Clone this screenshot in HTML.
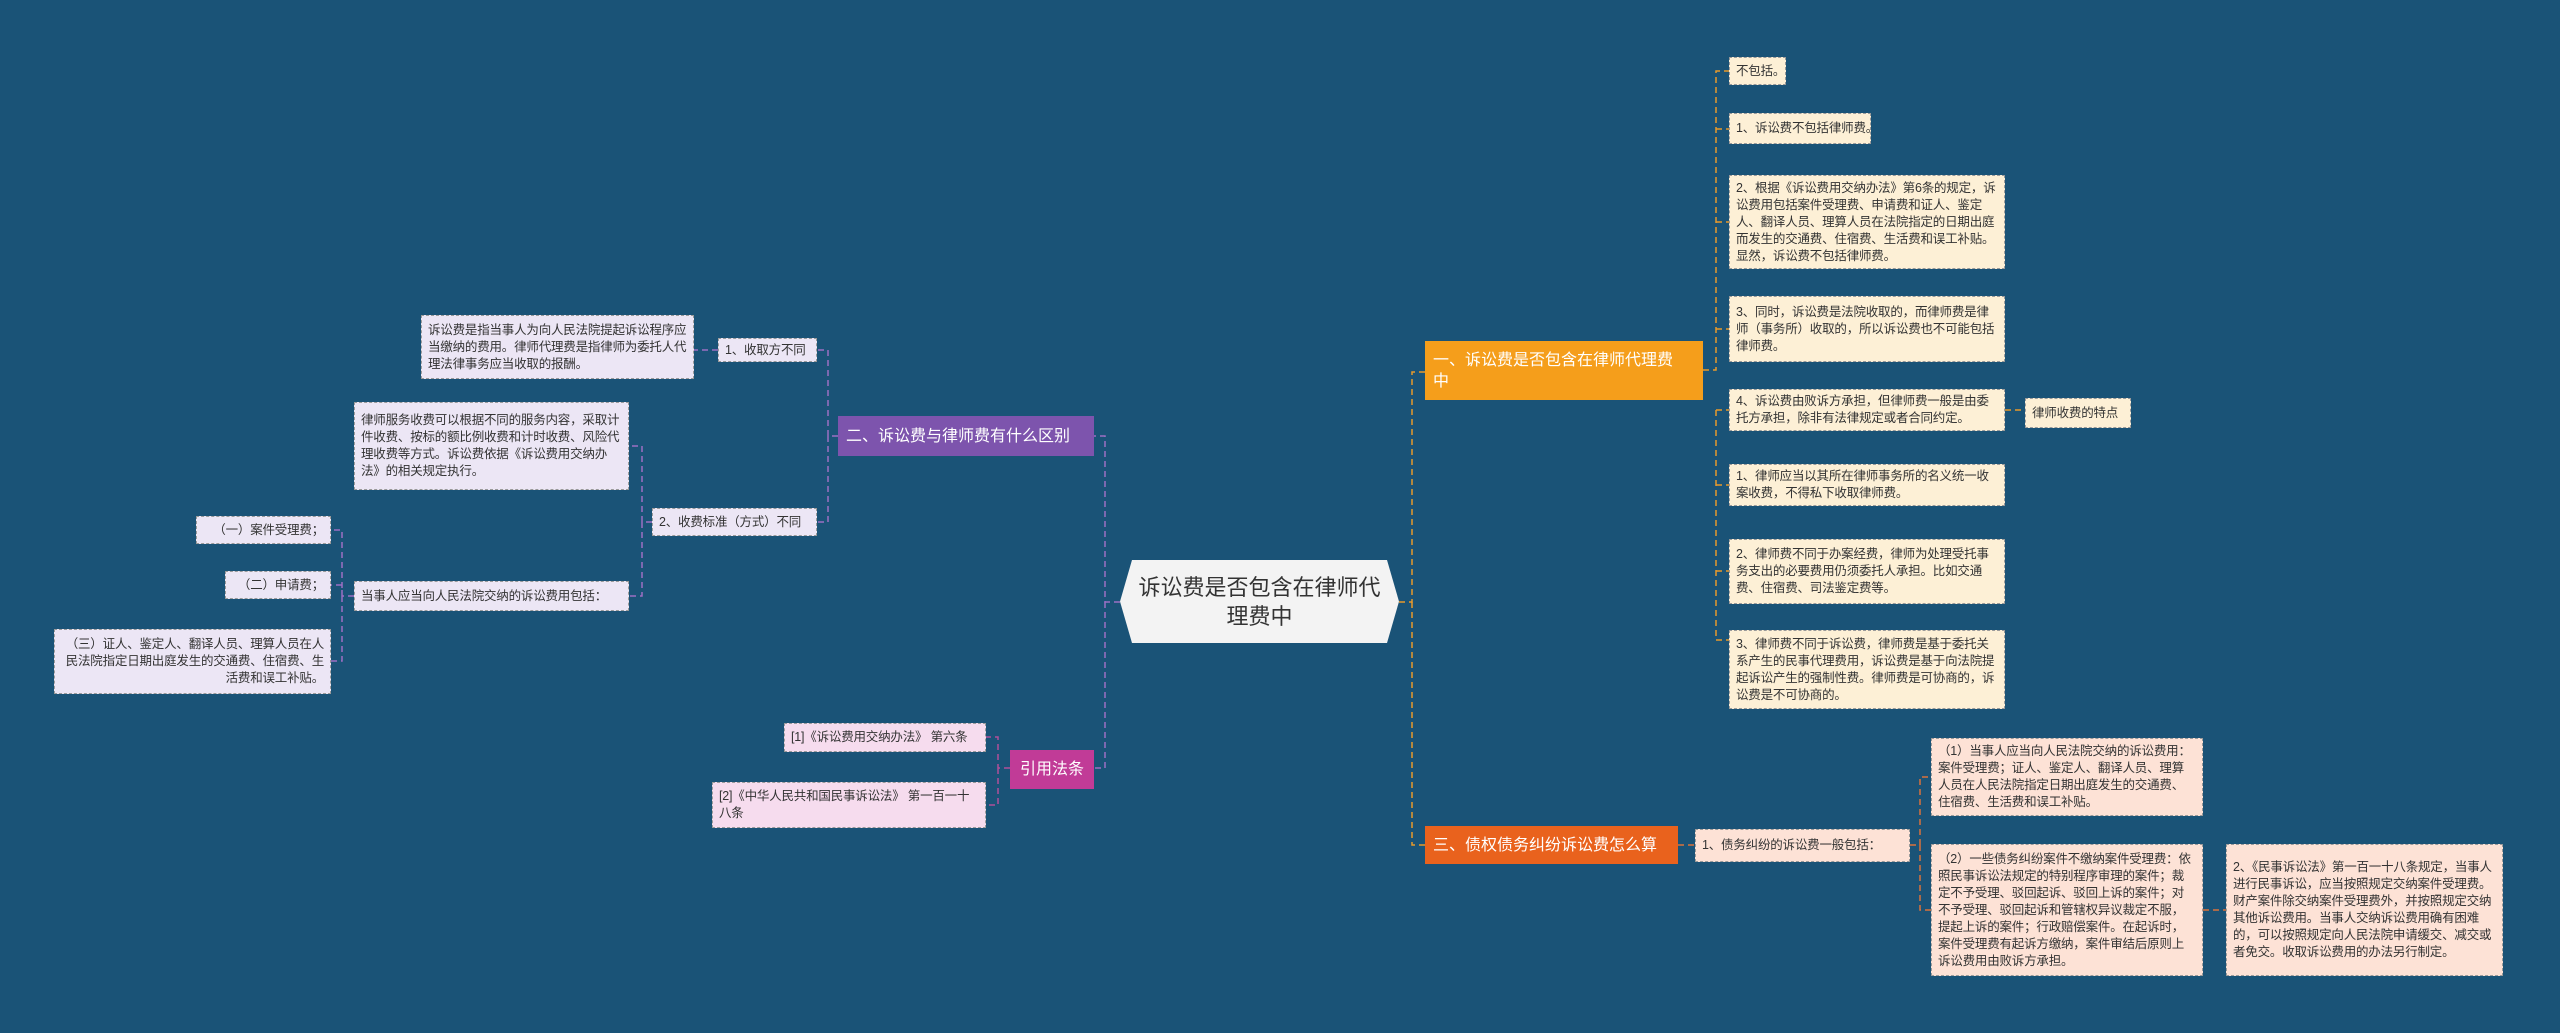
<!DOCTYPE html>
<html><head><meta charset="utf-8"><style>
body{margin:0;width:2560px;height:1033px;background:#1a5377;position:relative;overflow:hidden;font-family:"Liberation Sans","Noto Sans CJK SC",sans-serif}
.n{position:absolute;box-sizing:border-box;font-size:12.5px;line-height:17px;color:#333;padding:4px 6px;border:1px dashed #9a9a9a;display:flex;align-items:center;letter-spacing:-0.2px}
.s{white-space:nowrap}
.c{background:#fdf0d6}
.p{background:#fde2d6}
.l{background:#ece6f5}
.k{background:#f6dcee}
.b{position:absolute;box-sizing:border-box;color:#fff;font-size:16px;line-height:21px;padding:4px 8px;display:flex;align-items:center}
svg{position:absolute;left:0;top:0}
</style></head><body>
<svg width="2560" height="1033" fill="none" stroke-width="1.5" stroke-dasharray="6,4">
<g stroke="#e89a2c">
<path d="M1399 602 H1412 V372 H1425"/>
<path d="M1412 602 V845 H1425"/>
<path d="M1703 370 H1716 V71 H1729 M1716 129 H1729 M1716 222 H1729 M1716 329 H1729 M1716 410 H1729 M1716 485 H1729 M1716 571 H1729 M1716 640 H1729 M1716 410 V640"/>
<path d="M2005 410 H2025"/>
</g>
<g stroke="#d9733c">
<path d="M1678 845 H1695"/>
<path d="M1910 845 H1920 V777 H1931 M1920 845 V910 H1931"/>
<path d="M2203 910 H2226"/>
</g>
<g stroke="#9b6fc4">
<path d="M1120 602 H1105 V436 H1094"/>
<path d="M1105 602 V768 H1094"/>
<path d="M838 436 H828 V350 H817 M828 436 V522 H817"/>
<path d="M718 350 H694"/>
<path d="M652 522 H642 V446 H629 M642 522 V596 H629"/>
<path d="M354 596 H342 V530 H331 M342 596 V585 M342 585 H331 M342 596 V661 H331"/>
</g>
<g stroke="#b0509a">
<path d="M1010 768 H998 V737 H986 M998 768 V805 H986"/>
</g>
</svg>
<div style="position:absolute;left:1120px;top:560px;width:279px;height:83px;background:#f3f3f3;clip-path:polygon(12px 0,267px 0,279px 50%,267px 100%,12px 100%,0 50%);display:flex;align-items:center;justify-content:center;text-align:center;font-size:22px;line-height:29px;color:#333">诉讼费是否包含在律师代<br>理费中</div>

<div class="b" style="left:1425px;top:341px;width:278px;height:59px;background:#f59e1b">一、诉讼费是否包含在律师代理费<br>中</div>
<div class="b" style="left:1425px;top:826px;width:253px;height:38px;background:#e9621d">三、债权债务纠纷诉讼费怎么算</div>
<div class="b" style="left:838px;top:416px;width:256px;height:40px;background:#7d54ad">二、诉讼费与律师费有什么区别</div>
<div class="b" style="left:1010px;top:750px;width:84px;height:39px;background:#c13b97;justify-content:center">引用法条</div>

<div class="n c s" style="left:1729px;top:57px;width:57px;height:28px">不包括。</div>
<div class="n c s" style="left:1729px;top:113px;width:142px;height:31px">1、诉讼费不包括律师费。</div>
<div class="n c" style="left:1729px;top:175px;width:276px;height:94px">2、根据《诉讼费用交纳办法》第6条的规定，诉讼费用包括案件受理费、申请费和证人、鉴定人、翻译人员、理算人员在法院指定的日期出庭而发生的交通费、住宿费、生活费和误工补贴。显然，诉讼费不包括律师费。</div>
<div class="n c" style="left:1729px;top:296px;width:276px;height:66px">3、同时，诉讼费是法院收取的，而律师费是律师（事务所）收取的，所以诉讼费也不可能包括律师费。</div>
<div class="n c" style="left:1729px;top:389px;width:276px;height:42px">4、诉讼费由败诉方承担，但律师费一般是由委托方承担，除非有法律规定或者合同约定。</div>
<div class="n c s" style="left:2025px;top:398px;width:106px;height:30px">律师收费的特点</div>
<div class="n c" style="left:1729px;top:464px;width:276px;height:42px">1、律师应当以其所在律师事务所的名义统一收案收费，不得私下收取律师费。</div>
<div class="n c" style="left:1729px;top:539px;width:276px;height:65px">2、律师费不同于办案经费，律师为处理受托事务支出的必要费用仍须委托人承担。比如交通费、住宿费、司法鉴定费等。</div>
<div class="n c" style="left:1729px;top:630px;width:276px;height:79px">3、律师费不同于诉讼费，律师费是基于委托关系产生的民事代理费用，诉讼费是基于向法院提起诉讼产生的强制性费。律师费是可协商的，诉讼费是不可协商的。</div>

<div class="n p s" style="left:1695px;top:829px;width:215px;height:33px">1、债务纠纷的诉讼费一般包括：</div>
<div class="n p" style="left:1931px;top:738px;width:272px;height:78px">（1）当事人应当向人民法院交纳的诉讼费用：案件受理费；证人、鉴定人、翻译人员、理算人员在人民法院指定日期出庭发生的交通费、住宿费、生活费和误工补贴。</div>
<div class="n p" style="left:1931px;top:844px;width:272px;height:132px">（2）一些债务纠纷案件不缴纳案件受理费：依照民事诉讼法规定的特别程序审理的案件；裁定不予受理、驳回起诉、驳回上诉的案件；对不予受理、驳回起诉和管辖权异议裁定不服，提起上诉的案件；行政赔偿案件。在起诉时，案件受理费有起诉方缴纳，案件审结后原则上诉讼费用由败诉方承担。</div>
<div class="n p" style="left:2226px;top:844px;width:277px;height:132px">2、《民事诉讼法》第一百一十八条规定，当事人进行民事诉讼，应当按照规定交纳案件受理费。财产案件除交纳案件受理费外，并按照规定交纳其他诉讼费用。当事人交纳诉讼费用确有困难的，可以按照规定向人民法院申请缓交、减交或者免交。收取诉讼费用的办法另行制定。</div>

<div class="n l s" style="left:718px;top:338px;width:99px;height:24px">1、收取方不同</div>
<div class="n l" style="left:421px;top:315px;width:273px;height:64px">诉讼费是指当事人为向人民法院提起诉讼程序应当缴纳的费用。律师代理费是指律师为委托人代理法律事务应当收取的报酬。</div>
<div class="n l s" style="left:652px;top:508px;width:165px;height:28px">2、收费标准（方式）不同</div>
<div class="n l" style="left:354px;top:402px;width:275px;height:88px">律师服务收费可以根据不同的服务内容，采取计件收费、按标的额比例收费和计时收费、风险代理收费等方式。诉讼费依据《诉讼费用交纳办法》的相关规定执行。</div>
<div class="n l s" style="left:354px;top:581px;width:275px;height:30px">当事人应当向人民法院交纳的诉讼费用包括：</div>
<div class="n l s" style="left:196px;top:516px;width:135px;height:28px;justify-content:flex-end">（一）案件受理费；</div>
<div class="n l s" style="left:225px;top:571px;width:106px;height:28px;justify-content:flex-end">（二）申请费；</div>
<div class="n l" style="left:54px;top:629px;width:277px;height:65px;text-align:right">（三）证人、鉴定人、翻译人员、理算人员在人民法院指定日期出庭发生的交通费、住宿费、生活费和误工补贴。</div>

<div class="n k s" style="left:784px;top:723px;width:202px;height:29px">[1]《诉讼费用交纳办法》 第六条</div>
<div class="n k" style="left:712px;top:782px;width:274px;height:46px">[2]《中华人民共和国民事诉讼法》 第一百一十八条</div>
</body></html>
